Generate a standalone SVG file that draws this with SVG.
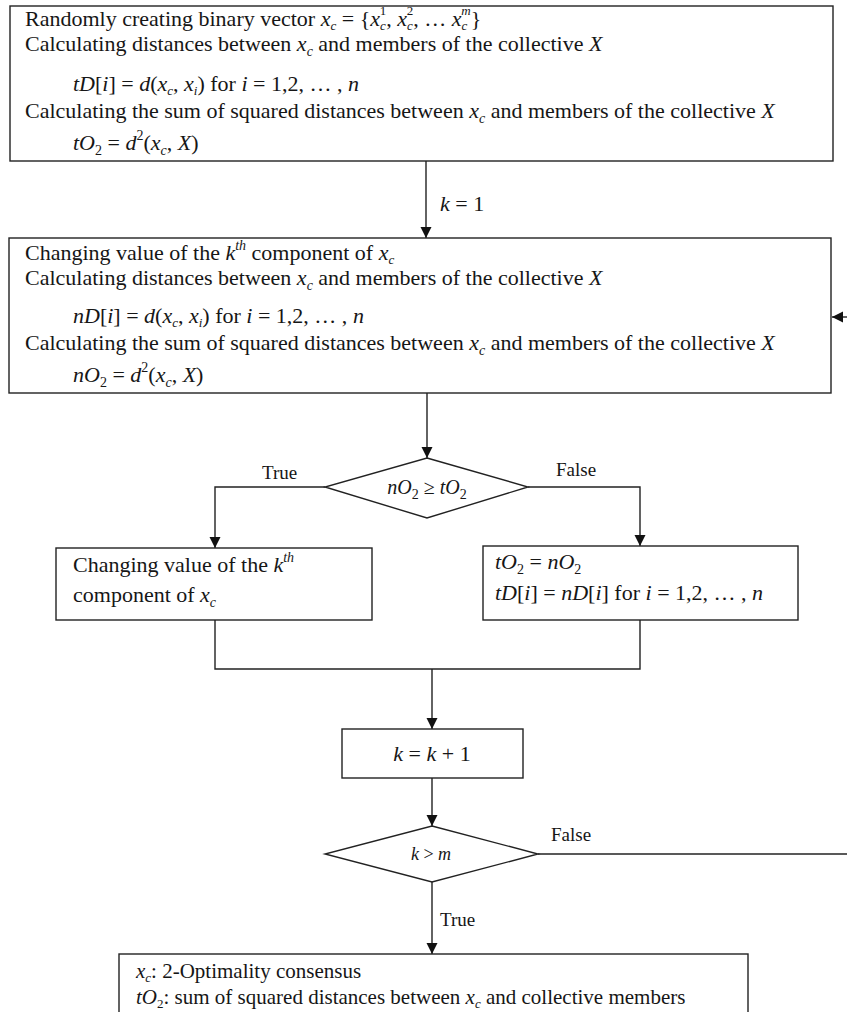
<svg xmlns="http://www.w3.org/2000/svg" width="847" height="1012" viewBox="0 0 847 1012">
<style>
.bg{fill:#fff}
.box{fill:#fff;stroke:#222;stroke-width:1.4}
.ln{fill:none;stroke:#222;stroke-width:1.4}
.t{font-family:"Liberation Serif","Times New Roman",serif;font-size:22px;fill:#161616}
.sm{font-size:21px}
.lb{font-family:"Liberation Serif","Times New Roman",serif;font-size:19px;fill:#161616}
.v{font-style:italic}
.sb{font-size:14px;baseline-shift:-5px}
.sbi{font-size:14px;font-style:italic;baseline-shift:-5px}
.sb4{font-size:13px;font-style:italic;baseline-shift:-4px}
.sb4n{font-size:13px;baseline-shift:-4px}
.sp{font-size:14px;baseline-shift:10px}
.sp4{font-size:13px;baseline-shift:11px}
.spi4{font-size:13px;font-style:italic;baseline-shift:11px}
.spi{font-size:14px;font-style:italic;baseline-shift:10px}
</style>
<defs>
<marker id="ah" viewBox="0 0 10 10" refX="10" refY="5" markerWidth="11" markerHeight="12" markerUnits="userSpaceOnUse" orient="auto"><path d="M0,0 L10,5 L0,10 z" fill="#111"/></marker>
</defs>
<rect class="bg" x="0" y="0" width="847" height="1012"/>

<g id="connectors">
<line class="ln" x1="426" y1="161" x2="426" y2="238" marker-end="url(#ah)"/>
<line class="ln" x1="427" y1="393" x2="427" y2="458" marker-end="url(#ah)"/>
<polyline class="ln" points="325,487 215,487 215,548" marker-end="url(#ah)"/>
<polyline class="ln" points="528,487 640,487 640,546" marker-end="url(#ah)"/>
<polyline class="ln" points="215,620 215,669 640,669 640,620"/>
<line class="ln" x1="432" y1="669" x2="432" y2="729" marker-end="url(#ah)"/>
<line class="ln" x1="432" y1="778" x2="432" y2="826" marker-end="url(#ah)"/>
<line class="ln" x1="432" y1="882" x2="432" y2="954" marker-end="url(#ah)"/>
<line class="ln" x1="538" y1="854" x2="847" y2="854"/>
<line class="ln" x1="847" y1="317" x2="832" y2="317" marker-end="url(#ah)"/>
<text class="t" x="440" y="211"><tspan class="v">k</tspan> = 1</text>
<text class="lb" x="262" y="479">True</text>
<text class="lb" x="556" y="476">False</text>
<text class="lb" x="551" y="841">False</text>
<text class="lb" x="440" y="926">True</text>
</g>

<g id="init">
<rect class="box" x="10" y="6" width="823" height="155"/>
<text class="t" x="25" y="26">Randomly creating binary vector <tspan class="v">x</tspan><tspan class="sb4">c</tspan> = {<tspan class="v">x</tspan><tspan class="sb4">c</tspan><tspan class="sp4" dx="-6">1</tspan>, <tspan class="v">x</tspan><tspan class="sb4">c</tspan><tspan class="sp4" dx="-6">2</tspan>, … <tspan class="v">x</tspan><tspan class="sb4">c</tspan><tspan class="spi4" dx="-6">m</tspan>}</text>
<text class="t" x="25" y="51">Calculating distances between <tspan class="v">x</tspan><tspan class="sbi">c</tspan> and members of the collective <tspan class="v">X</tspan></text>
<text class="t" x="73" y="91"><tspan class="v">tD</tspan>[<tspan class="v">i</tspan>] = <tspan class="v">d</tspan>(<tspan class="v">x</tspan><tspan class="sb4">c</tspan>, <tspan class="v">x</tspan><tspan class="sb4">i</tspan>) for <tspan class="v">i</tspan> = 1,2, … , <tspan class="v">n</tspan></text>
<text class="t" x="25" y="118">Calculating the sum of squared distances between <tspan class="v">x</tspan><tspan class="sbi">c</tspan> and members of the collective <tspan class="v">X</tspan></text>
<text class="t" x="73" y="150"><tspan class="v">tO</tspan><tspan class="sb">2</tspan> = <tspan class="v">d</tspan><tspan class="sp">2</tspan>(<tspan class="v">x</tspan><tspan class="sbi">c</tspan>, <tspan class="v">X</tspan>)</text>
</g>

<g id="change">
<rect class="box" x="9" y="238" width="822" height="155"/>
<text class="t" x="25" y="260">Changing value of the <tspan class="v">k</tspan><tspan class="spi">th</tspan> component of <tspan class="v">x</tspan><tspan class="sb4">c</tspan></text>
<text class="t" x="25" y="285">Calculating distances between <tspan class="v">x</tspan><tspan class="sbi">c</tspan> and members of the collective <tspan class="v">X</tspan></text>
<text class="t" x="73" y="323"><tspan class="v">nD</tspan>[<tspan class="v">i</tspan>] = <tspan class="v">d</tspan>(<tspan class="v">x</tspan><tspan class="sb4">c</tspan>, <tspan class="v">x</tspan><tspan class="sb4">i</tspan>) for <tspan class="v">i</tspan> = 1,2, … , <tspan class="v">n</tspan></text>
<text class="t" x="25" y="350">Calculating the sum of squared distances between <tspan class="v">x</tspan><tspan class="sbi">c</tspan> and members of the collective <tspan class="v">X</tspan></text>
<text class="t" x="73" y="382"><tspan class="v">nO</tspan><tspan class="sb">2</tspan> = <tspan class="v">d</tspan><tspan class="sp">2</tspan>(<tspan class="v">x</tspan><tspan class="sbi">c</tspan>, <tspan class="v">X</tspan>)</text>
</g>

<g id="cond1">
<polygon class="box" points="427,458 528,487 427,518 325,487"/>
<text class="t" x="427" y="494" text-anchor="middle" style="font-size:20px"><tspan class="v">nO</tspan><tspan class="sb">2</tspan> ≥ <tspan class="v">tO</tspan><tspan class="sb">2</tspan></text>
</g>

<g id="revert">
<rect class="box" x="56" y="548" width="316" height="72"/>
<text class="t" x="73" y="572">Changing value of the <tspan class="v">k</tspan><tspan class="spi">th</tspan></text>
<text class="t" x="73" y="602">component of <tspan class="v">x</tspan><tspan class="sbi">c</tspan></text>
</g>

<g id="update">
<rect class="box" x="483" y="546" width="315" height="74"/>
<text class="t" x="495" y="569"><tspan class="v">tO</tspan><tspan class="sb">2</tspan> = <tspan class="v">nO</tspan><tspan class="sb">2</tspan></text>
<text class="t" x="495" y="600"><tspan class="v">tD</tspan>[<tspan class="v">i</tspan>] = <tspan class="v">nD</tspan>[<tspan class="v">i</tspan>] for <tspan class="v">i</tspan> = 1,2, … , <tspan class="v">n</tspan></text>
</g>

<g id="increment">
<rect class="box" x="342" y="729" width="181" height="49"/>
<text class="t" x="432" y="761" text-anchor="middle"><tspan class="v">k</tspan> = <tspan class="v">k</tspan> + 1</text>
</g>

<g id="cond2">
<polygon class="box" points="432,826 538,854 432,882 325,854"/>
<text class="t" x="431" y="860" text-anchor="middle" style="font-size:18px"><tspan class="v">k</tspan> &gt; <tspan class="v">m</tspan></text>
</g>

<g id="result">
<rect class="box" x="119" y="954" width="629" height="80"/>
<text class="t sm" x="136" y="978"><tspan class="v">x</tspan><tspan class="sb4">c</tspan>: 2-Optimality consensus</text>
<text class="t sm" x="136" y="1004"><tspan class="v">tO</tspan><tspan class="sb4n">2</tspan>: sum of squared distances between <tspan class="v">x</tspan><tspan class="sb4">c</tspan> and collective members</text>
</g>
</svg>
